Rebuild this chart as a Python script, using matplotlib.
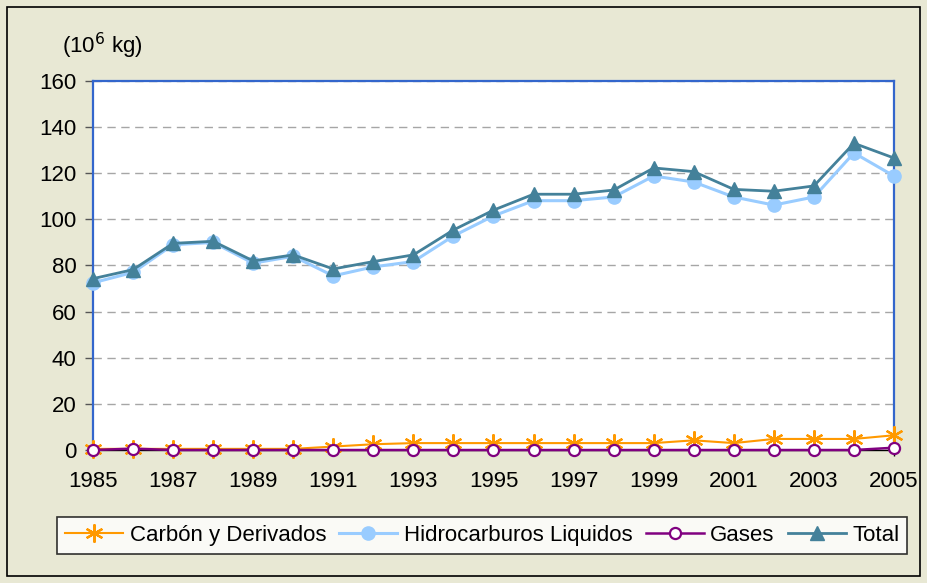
import matplotlib
matplotlib.use("Agg")
import matplotlib.pyplot as plt
from matplotlib.patches import Rectangle

plt.rcParams["font.family"] = ["Liberation Sans", "DejaVu Sans"]

years = list(range(1985, 2006))
carbon = [0.5, 0.5, 0.5, 0.5, 0.5, 0.5, 1.5, 2.5, 3.0, 3.0, 3.0, 3.0, 3.0, 3.0, 3.0,
          4.2, 3.0, 4.8, 4.8, 4.8, 6.4]
liquidos = [72.5, 77.0, 89.0, 90.0, 81.0, 84.0, 75.5, 79.4, 81.7, 92.8, 101.5, 108.1,
            108.1, 109.7, 118.8, 116.2, 109.7, 106.2, 109.7, 128.8, 118.8]
gases = [0.0, 0.6, 0.0, 0.0, 0.0, 0.0, 0.0, 0.0, 0.0, 0.0, 0.0, 0.0, 0.0, 0.0, 0.0,
         0.0, 0.0, 0.0, 0.0, 0.0, 1.0]
total = [74.3, 78.2, 89.6, 90.5, 82.0, 84.6, 78.5, 81.7, 84.6, 95.4, 104.0, 110.9,
         110.9, 112.7, 122.3, 120.7, 113.0, 112.2, 114.5, 133.0, 126.6]

bg = "#E8E8D4"
fig = plt.figure(figsize=(9.27, 5.83), dpi=100, facecolor=bg)
fig.patches.append(Rectangle((7 / 927, 7 / 583), 1 - 14 / 927, 1 - 14 / 583,
                             transform=fig.transFigure, fill=False,
                             edgecolor="black", linewidth=1.2))

ax = fig.add_axes([0.1003, 0.2281, 0.8641, 0.633])
ax.set_facecolor("white")

ax.plot(years, carbon, color="#FF9900", lw=1.5, marker=(6, 2, 0), ms=13,
        mew=1.6, label="Carbón y Derivados", clip_on=False, zorder=3)
ax.plot(years, liquidos, color="#99CCFF", lw=2.2, marker="o", ms=9.5,
        label="Hidrocarburos Liquidos", clip_on=False, zorder=4)
ax.plot(years, gases, color="#800080", lw=1.8, marker="o", ms=8, mfc="white",
        mew=1.6, label="Gases", clip_on=False, zorder=5)
ax.plot(years, total, color="#44819A", lw=2.0, marker="^", ms=10,
        label="Total", clip_on=False, zorder=6)

ax.set_xlim(1985, 2005)
ax.set_ylim(0, 160)
ax.set_yticks(range(0, 161, 20))
ax.set_xticks(range(1985, 2006, 2))
ax.set_xticks(years, minor=True)
ax.yaxis.grid(True, color="#A6A6A6", linestyle=(0, (6, 4)), lw=1)
ax.set_axisbelow(True)

for side in ("left", "top", "right"):
    ax.spines[side].set_color("#3366CC")
    ax.spines[side].set_linewidth(1.6)
ax.spines["bottom"].set_color("black")
ax.spines["bottom"].set_linewidth(1)

ax.tick_params(axis="y", direction="out", length=6, width=1, color="#555555",
               labelsize=16, pad=6)
ax.tick_params(axis="x", which="both", direction="inout", length=8, width=1,
               labelsize=16, pad=11)

fig.text(0.067, 0.922, "(10$^{6}$ kg)", fontsize=16, ha="left", va="center")

leg = ax.legend(loc="center", bbox_to_anchor=(0.486, -0.232), ncol=4,
                fontsize=16, frameon=True, fancybox=False, edgecolor="black",
                handlelength=2.6, columnspacing=0.6, handletextpad=0.3,
                borderpad=0.35, borderaxespad=0)
leg.get_frame().set_linewidth(1.2)

fig.savefig("out.png", dpi=100, facecolor=bg)
